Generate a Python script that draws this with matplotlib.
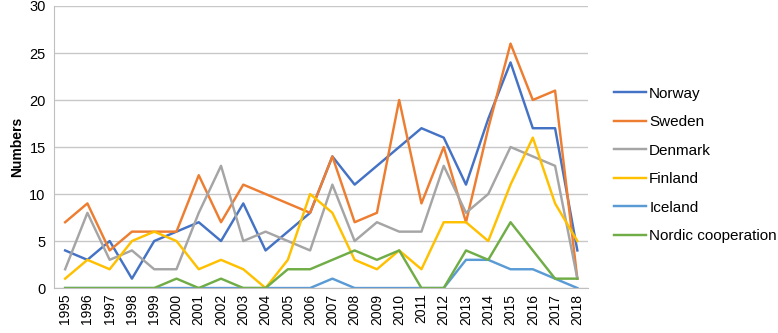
import numpy as np
import matplotlib.pyplot as plt

years = list(range(1995, 2019))

norway = [4, 3, 5, 1, 5, 6, 7, 5, 9, 4, 6, 8, 14, 11, 13, 15, 17, 16, 11, 18, 24, 17, 17, 4]
sweden = [7, 9, 4, 6, 6, 6, 12, 7, 11, 10, 9, 8, 14, 7, 8, 20, 9, 15, 7, 17, 26, 20, 21, 1]
denmark = [2, 8, 3, 4, 2, 2, 8, 13, 5, 6, 5, 4, 11, 5, 7, 6, 6, 13, 8, 10, 15, 14, 13, 1]
finland = [1, 3, 2, 5, 6, 5, 2, 3, 2, 0, 3, 10, 8, 3, 2, 4, 2, 7, 7, 5, 11, 16, 9, 5]
iceland = [0, 0, 0, 0, 0, 0, 0, 0, 0, 0, 0, 0, 1, 0, 0, 0, 0, 0, 3, 3, 2, 2, 1, 0]
nordic = [0, 0, 0, 0, 0, 1, 0, 1, 0, 0, 2, 2, 3, 4, 3, 4, 0, 0, 4, 3, 7, 4, 1, 1]

series = [
    ('Norway', norway, '#4472C4'),
    ('Sweden', sweden, '#ED7D31'),
    ('Denmark', denmark, '#A5A5A5'),
    ('Finland', finland, '#FFC000'),
    ('Iceland', iceland, '#5B9BD5'),
    ('Nordic cooperation', nordic, '#70AD47'),
]

plt.rcParams['font.family'] = ['Liberation Sans', 'DejaVu Sans']

fig = plt.figure(figsize=(7.78, 3.33), dpi=100)
ax = fig.add_axes([0.0694, 0.135, 0.687, 0.847])

x = np.arange(len(years))
for name, vals, col in series:
    ax.plot(x, vals, color=col, lw=1.75, label=name)

ax.set_xlim(-0.5, len(years) - 0.5)
ax.set_ylim(0, 30)
ax.set_yticks(range(0, 31, 5))
ax.set_xticks(x)
ax.set_xticklabels([str(y) for y in years], rotation=90, fontsize=10)
ax.tick_params(axis='y', labelsize=10.5, length=0, pad=6)
ax.tick_params(axis='x', length=0, pad=4)
ax.grid(axis='y', color='#C8C8C8', lw=1)
ax.set_axisbelow(True)
for s in ['top', 'right']:
    ax.spines[s].set_visible(False)
for s in ['left', 'bottom']:
    ax.spines[s].set_color('#BFBFBF')
ax.set_ylabel('Numbers', fontweight='bold', fontsize=10, labelpad=4)

ax.legend(loc='center left', bbox_to_anchor=(1.022, 0.436), frameon=False,
          fontsize=11, handlelength=2.1, handletextpad=0.2, labelspacing=0.95)

fig.savefig('out.png', dpi=100)
